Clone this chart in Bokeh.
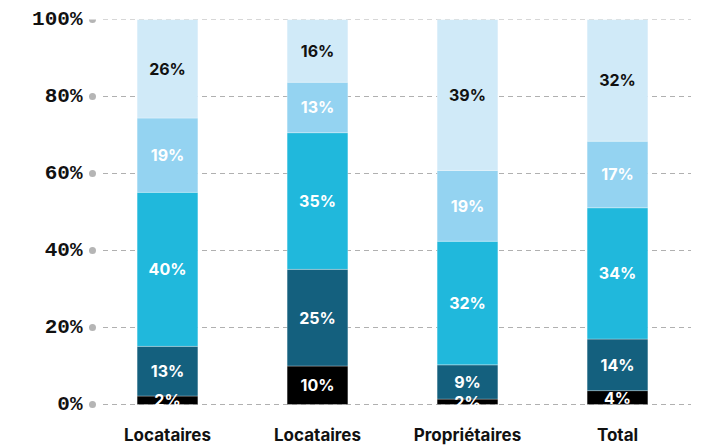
from bokeh.plotting import figure
from bokeh.models import Range1d, FixedTicker, ColumnDataSource
from bokeh.core.properties import value
from bokeh.embed import file_html
from bokeh.resources import INLINE

# ---- data ----
categories = ["Locataires", "Locataires", "Propriétaires", "Total"]
seg_black = [2.2, 10.0, 1.4, 3.6]
seg_dark = [12.9, 25.1, 8.9, 13.4]
seg_cyan = [40.0, 35.5, 32.1, 34.1]
seg_light = [19.3, 13.1, 18.4, 17.3]
seg_pale = [25.6, 16.3, 39.2, 31.6]
lab_black = ["2%", "10%", "2%", "4%"]
lab_dark = ["13%", "25%", "9%", "14%"]
lab_cyan = ["40%", "35%", "32%", "34%"]
lab_light = ["19%", "13%", "19%", "17%"]
lab_pale = ["26%", "16%", "39%", "32%"]
y_ticks = [0, 20, 40, 60, 80, 100]
y_tick_labels = ["0%", "20%", "40%", "60%", "80%", "100%"]

series = [
    (seg_black, lab_black, "#000000", "white"),
    (seg_dark, lab_dark, "#14607e", "white"),
    (seg_cyan, lab_cyan, "#20b8dc", "white"),
    (seg_light, lab_light, "#94d3f1", "white"),
    (seg_pale, lab_pale, "#d0eaf8", "#111111"),
]

W, H = 707, 446
top_px = 19
px_per_unit = 3.85
frame_h = H - top_px
y_min = 100 - frame_h / px_per_unit

p = figure(width=W, height=H, output_backend="svg", toolbar_location=None,
           x_range=Range1d(-0.04, 4.0), y_range=Range1d(y_min, 100),
           x_axis_location=None, min_border_left=86, min_border_right=15,
           min_border_top=top_px, min_border_bottom=0)
p.outline_line_color = None
p.background_fill_color = "white"
p.border_fill_color = "white"
p.xgrid.visible = False
p.ygrid.visible = False

ax = p.yaxis[0]
ax.ticker = FixedTicker(ticks=y_ticks)
ax.major_label_overrides = {t: l for t, l in zip(y_ticks, y_tick_labels)}
ax.axis_line_color = None
ax.major_tick_line_color = None
ax.minor_tick_line_color = None
ax.major_tick_out = 0
ax.major_tick_in = 0
ax.major_label_standoff = 4
ax.major_label_text_font = "Liberation Mono"
ax.major_label_text_font_style = "bold"
ax.major_label_text_font_size = "21px"
ax.major_label_text_color = "#111111"

# grid lines and dots
p.segment(x0=[0.07] * len(y_ticks), x1=[3.99] * len(y_ticks), y0=y_ticks, y1=y_ticks,
          line_color="#b0b0b0", line_width=1, line_dash="5 4")
p.scatter(x=[0] * len(y_ticks), y=y_ticks, size=7, color="#b5b5b5", line_color=None)

xs = [i + 0.5 for i in range(len(categories))]
bottoms = [0.0] * len(categories)
label_sources = []
for vals, labs, col, tcol in series:
    tops = [b + v for b, v in zip(bottoms, vals)]
    src = ColumnDataSource(dict(x=xs, bottom=bottoms, top=tops,
                                mid=[(b + t) / 2 for b, t in zip(bottoms, tops)], lab=labs))
    p.vbar(x="x", width=0.405, bottom="bottom", top="top", source=src,
           fill_color=col, line_color="white", line_width=0.6, line_alpha=0.5)
    label_sources.append((src, tcol))
    bottoms = tops

for src, tcol in label_sources:
    p.text(x="x", y="mid", text="lab", source=src, text_align="center",
           text_baseline="middle", text_color=tcol, text_font=value("Inter"),
           text_font_style="bold", text_font_size="16px")

p.text(x=xs, y=[-7.8] * len(xs), text=categories, text_align="center",
       text_baseline="middle", text_color="#111111", text_font=value("Inter"),
       text_font_style="bold", text_font_size="17px")

open("out.html", "w").write(file_html(p, INLINE))
